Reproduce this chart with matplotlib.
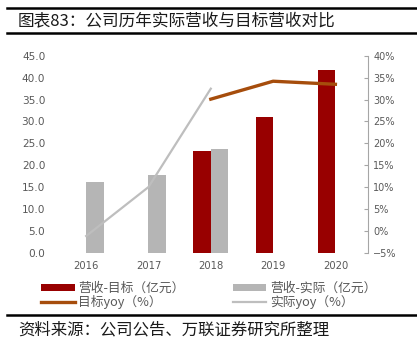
import numpy as np
import matplotlib
matplotlib.use("Agg")
import matplotlib.pyplot as plt
from matplotlib.lines import Line2D
from matplotlib.ticker import FormatStrFormatter, FuncFormatter

plt.rcParams['font.family'] = ['Noto Sans CJK SC', 'DejaVu Sans']

years = ['2016', '2017', '2018', '2019', '2020']
rev_target = [np.nan, np.nan, 23.3, 31.1, 41.8]     # 营收-目标（亿元）
rev_actual = [16.1, 17.8, 23.6, np.nan, np.nan]     # 营收-实际（亿元）
yoy_target = [np.nan, np.nan, 30.1, 34.2, 33.5]     # 目标yoy（%）
yoy_actual = [-1.2, 10.0, 32.5, np.nan, np.nan]     # 实际yoy（%）

RED = '#980000'
GRAY_BAR = '#B5B5B5'
BROWN = '#A64D0C'
GRAY_LINE = '#BEBEBE'
TXT = '#595959'

fig = plt.figure(figsize=(4.17, 3.47), dpi=100)
ax = fig.add_axes([0.132, 0.272, 0.750, 0.567])
ax2 = ax.twinx()

x = np.arange(len(years))
w = 0.28
ax.bar(x, rev_target, width=-w, align='edge', color=RED, label='营收-目标（亿元）')
ax.bar(x, rev_actual, width=w, align='edge', color=GRAY_BAR, label='营收-实际（亿元）')

ax2.plot(x, yoy_target, color=BROWN, lw=2.4, label='目标yoy（%）')
ax2.plot(x, yoy_actual, color=GRAY_LINE, lw=1.6, label='实际yoy（%）')

ax.set_xlim(-0.5, 4.52)
ax.set_ylim(0, 45)
ax.set_yticks(np.arange(0, 46, 5))
ax.yaxis.set_major_formatter(FormatStrFormatter('%.1f'))
ax2.set_ylim(-5, 40)
ax2.set_yticks(np.arange(-5, 41, 5))
ax2.yaxis.set_major_formatter(FuncFormatter(lambda v, p: f'{v:.0f}%'.replace('-', '\u2212')))

ax.set_xticks(x)
ax.set_xticklabels(years)
for s in ['top', 'left', 'right', 'bottom']:
    ax.spines[s].set_visible(False)
    ax2.spines[s].set_visible(False)
ax2.spines['right'].set_visible(True)
ax2.spines['right'].set_color('#A6A6A6')
ax2.spines['right'].set_linewidth(0.8)

ax.tick_params(axis='y', length=0, labelsize=7.6, labelcolor=TXT, pad=7)
ax.tick_params(axis='x', length=0, labelsize=7.2, labelcolor=TXT, pad=6)
ax2.tick_params(axis='y', direction='in', length=3, color='#A6A6A6', width=0.8,
                labelsize=7, labelcolor=TXT, pad=4)
for lab in ax.get_yticklabels() + ax.get_xticklabels() + ax2.get_yticklabels():
    lab.set_family('DejaVu Sans')

# legend in two columns below the plot
h1, l1 = ax.get_legend_handles_labels()
h2, l2 = ax2.get_legend_handles_labels()
handles = [h1[0], h2[0], h1[1], h2[1]]
labels = [l1[0], l2[0], l1[1], l2[1]]
leg = fig.legend(handles, labels, ncol=2, loc='center left', bbox_to_anchor=(0.099, 0.149),
                 frameon=False, fontsize=9.2, handlelength=2.6, handleheight=0.5,
                 handletextpad=0.3, columnspacing=3.8, labelspacing=0.0,
                 borderpad=0, borderaxespad=0)
for t in leg.get_texts():
    t.set_color(TXT)

# title block with heavy rules
fig.add_artist(Line2D([0.017, 1.0], [1 - 7.5/347, 1 - 7.5/347], color='black', lw=1.8))
fig.add_artist(Line2D([0.017, 1.0], [1 - 33/347, 1 - 33/347], color='black', lw=1.8))
fig.text(0.043, 1 - 21/347, '图表83：公司历年实际营收与目标营收对比', fontsize=12,
         va='center', ha='left', color='#1a1a1a')

# source note
fig.add_artist(Line2D([0.017, 1.0], [1 - 315/347, 1 - 315/347], color='black', lw=1.8))
fig.text(0.043, 1 - 330/347, '资料来源：公司公告、万联证券研究所整理', fontsize=11.8,
         va='center', ha='left', color='#1a1a1a', style='italic')

fig.savefig('out.png', dpi=100)
